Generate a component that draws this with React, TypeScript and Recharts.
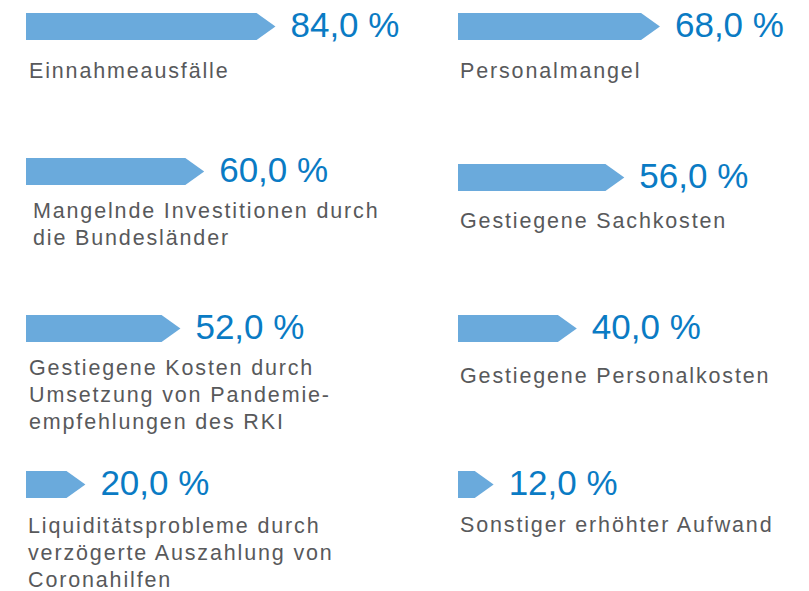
import React from "react";
import { Bar, BarChart, LabelList, XAxis, YAxis } from "recharts";

// Left column (top to bottom)
const leftLabels = [
  "Einnahmeausfälle",
  "Mangelnde Investitionen durch\ndie Bundesländer",
  "Gestiegene Kosten durch\nUmsetzung von Pandemie-\nempfehlungen des RKI",
  "Liquiditätsprobleme durch\nverzögerte Auszahlung von\nCoronahilfen",
];
const leftValues = [84, 60, 52, 20];

// Right column (top to bottom)
const rightLabels = [
  "Personalmangel",
  "Gestiegene Sachkosten",
  "Gestiegene Personalkosten",
  "Sonstiger erhöhter Aufwand",
];
const rightValues = [68, 56, 40, 12];

const BAR_COLOR = "#6aaadc";
const VALUE_COLOR = "#0a7bc4";
const TEXT_COLOR = "#58595b";
const FONT = "'Liberation Sans', Arial, sans-serif";

const BAR_H = 27;
const PLOT_W = 297; // 100 % on the axis
const PLOT_H = 41;
const PAD_TOP = 30;
const SVG_W = 400;
const SVG_H = 190;
const BAR_OFFSET = PAD_TOP + (PLOT_H - BAR_H) / 2;

// cell placement: bar top, gap from bar bottom to first label baseline, label indent
const leftCells = [
  { top: 13, gap: 38, dx: 3 },
  { top: 158, gap: 33, dx: 7 },
  { top: 315, gap: 33, dx: 3 },
  { top: 471, gap: 35, dx: 2 },
];
const rightCells = [
  { top: 13, gap: 38, dx: 2 },
  { top: 164, gap: 37, dx: 2 },
  { top: 315, gap: 41, dx: 2 },
  { top: 471, gap: 34, dx: 2 },
];

const formatPct = (v: number) => `${v.toFixed(1).replace(".", ",")} %`;

function Arrow(props: any) {
  const { x, y, width, height } = props;
  if (!width || width <= 0) return null;
  const head = Math.min(height * 0.7, width);
  const d = `M${x},${y} H${x + width - head} L${x + width},${y + height / 2} L${x + width - head},${y + height} H${x} Z`;
  return <path d={d} fill={BAR_COLOR} />;
}

function Cell({
  label,
  value,
  left,
  top,
  gap,
  dx,
}: {
  label: string;
  value: number;
  left: number;
  top: number;
  gap: number;
  dx: number;
}) {
  const data = [{ name: label, value }];
  return (
    <div style={{ position: "absolute", left, top: top - BAR_OFFSET }}>
      <BarChart
        width={SVG_W}
        height={SVG_H}
        data={data}
        layout="vertical"
        margin={{
          top: PAD_TOP,
          right: SVG_W - PLOT_W,
          bottom: SVG_H - PAD_TOP - PLOT_H,
          left: 0,
        }}
      >
        <XAxis type="number" domain={[0, 100]} hide />
        <YAxis type="category" dataKey="name" hide />
        <Bar
          dataKey="value"
          barSize={BAR_H}
          shape={<Arrow />}
          isAnimationActive={false}
        >
          <LabelList
            dataKey="value"
            content={(p: any) => (
              <text
                x={p.x + p.width + 15}
                y={p.y + p.height * 0.9}
                fontSize={35}
                fontFamily={FONT}
                fill={VALUE_COLOR}
              >
                {formatPct(Number(p.value))}
              </text>
            )}
          />
          <LabelList
            dataKey="name"
            content={(p: any) => (
              <text
                x={p.x + dx}
                y={p.y + p.height + gap}
                fontSize={21.5}
                fontFamily={FONT}
                fill={TEXT_COLOR}
                letterSpacing={1.85}
              >
                {String(p.value)
                  .split("\n")
                  .map((line, i) => (
                    <tspan key={i} x={p.x + dx} dy={i === 0 ? 0 : 26.8}>
                      {line}
                    </tspan>
                  ))}
              </text>
            )}
          />
        </Bar>
      </BarChart>
    </div>
  );
}

export default function App() {
  return (
    <div
      style={{
        position: "absolute",
        left: 0,
        top: 0,
        width: 809,
        height: 591,
        background: "#ffffff",
        overflow: "hidden",
      }}
    >
      {leftValues.map((v, i) => (
        <Cell
          key={`l${i}`}
          label={leftLabels[i]}
          value={v}
          left={26}
          {...leftCells[i]}
        />
      ))}
      {rightValues.map((v, i) => (
        <Cell
          key={`r${i}`}
          label={rightLabels[i]}
          value={v}
          left={458}
          {...rightCells[i]}
        />
      ))}
    </div>
  );
}
